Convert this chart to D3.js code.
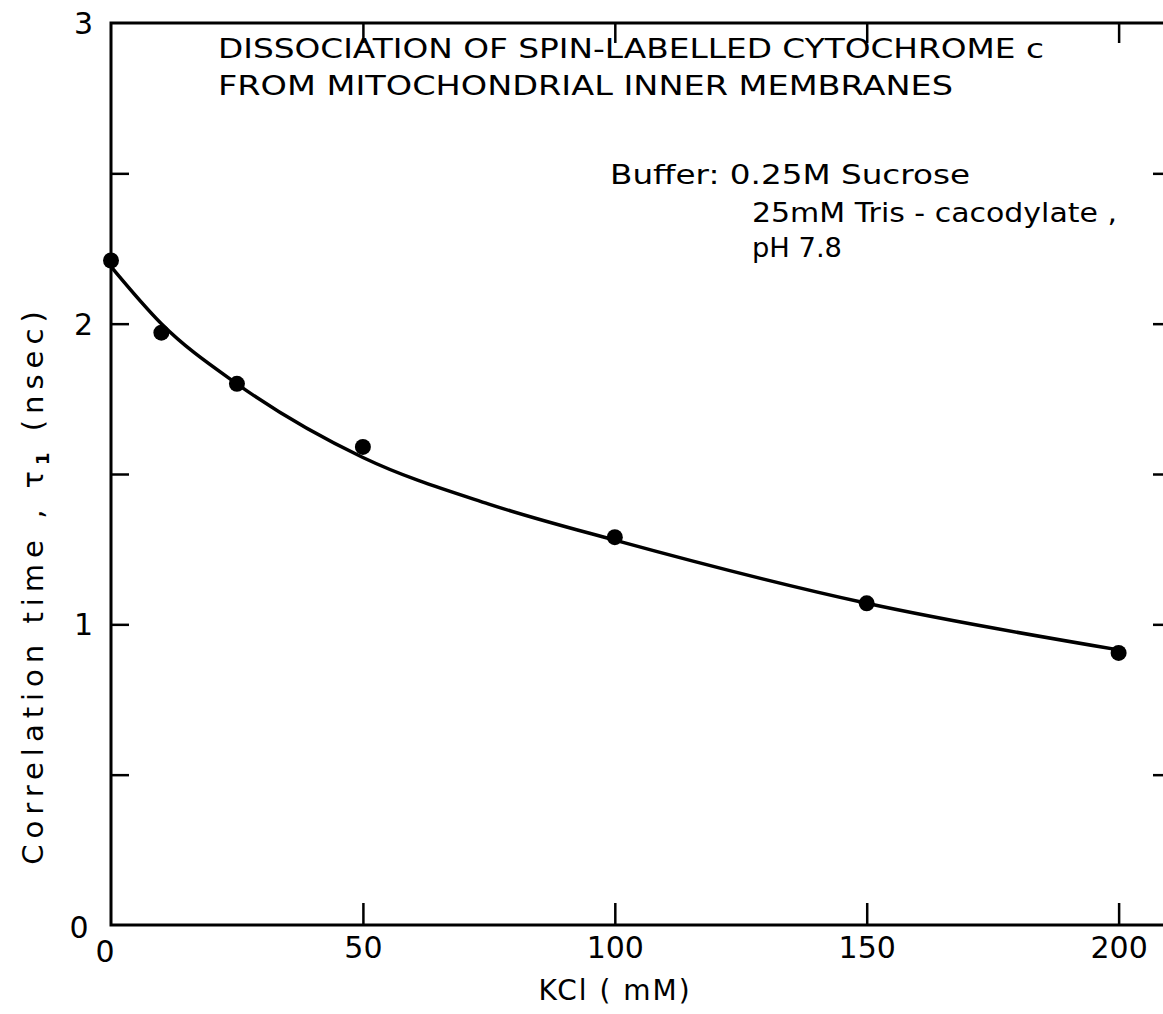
<!DOCTYPE html>
<html>
<head>
<meta charset="utf-8">
<script src="https://cdn.jsdelivr.net/npm/d3@7"></script>
<style>
  body { margin: 0; background: #fff; }
  text { font-family: "DejaVu Sans", sans-serif; fill: #000; }
</style>
</head>
<body>
<div id="chart"></div>
<script>
// measured points (KCl mM vs correlation time, nsec)
var kcl = [0, 10, 25, 50, 100, 150, 200];
var tau = [2.21, 1.97, 1.80, 1.59, 1.29, 1.07, 0.905];

// hand-drawn fitted curve
var curveX = [0, 10, 25, 50, 75, 100, 150, 200];
var curveY = [2.19, 2.00, 1.80, 1.555, 1.40, 1.28, 1.07, 0.915];

var xTicks = [0, 50, 100, 150, 200];
var yTicks = [0.5, 1, 1.5, 2, 2.5];
var yLabels = [1, 2, 3];

var titleLines = ["DISSOCIATION OF SPIN-LABELLED CYTOCHROME c",
                  "FROM MITOCHONDRIAL INNER MEMBRANES"];
var bufferLines = ["Buffer: 0.25M  Sucrose", "25mM Tris - cacodylate ,", "pH 7.8"];

var svgWidth = 1163;
var svgHeight = 1014;

var svg = d3.select("#chart")
    .append("svg")
    .attr("width", svgWidth)
    .attr("height", svgHeight);

var x = d3.scaleLinear().domain([0, 210]).range([111, 1169]);
var y = d3.scaleLinear().domain([0, 3]).range([925, 23]);

// frame
svg.append("rect")
    .attr("x", x(0))
    .attr("y", y(3))
    .attr("width", x(210) - x(0))
    .attr("height", y(0) - y(3))
    .attr("fill", "none")
    .attr("stroke", "#000")
    .attr("stroke-width", 3);

// bottom axis, ticks pointing up
var bottomAxis = svg.append("g")
    .attr("transform", `translate(0, ${y(0)})`)
    .call(d3.axisBottom(x).tickValues(xTicks.slice(1)).tickSize(-22).tickPadding(12));
// top axis ticks pointing down
var topAxis = svg.append("g")
    .attr("transform", `translate(0, ${y(3)})`)
    .call(d3.axisTop(x).tickValues(xTicks.slice(1)).tickSize(-20).tickFormat(""));
// left axis
var leftAxis = svg.append("g")
    .attr("transform", `translate(${x(0)}, 0)`)
    .call(d3.axisLeft(y).tickValues(yTicks).tickSize(-18).tickFormat(""));
// right axis
var rightAxis = svg.append("g")
    .attr("transform", `translate(${x(210)}, 0)`)
    .call(d3.axisRight(y).tickValues(yTicks).tickSize(-16).tickFormat(""));

[bottomAxis, topAxis, leftAxis, rightAxis].forEach(function(a) {
    a.select(".domain").remove();
    a.selectAll("line").attr("stroke", "#000").attr("stroke-width", 2.5);
});
bottomAxis.selectAll("text")
    .style("font-size", "30px")
    .style("font-family", "DejaVu Sans");

// the two zeros in the corner
svg.append("text")
    .attr("x", x(0) - 6)
    .attr("y", y(0) + 37)
    .attr("text-anchor", "middle")
    .style("font-size", "30px")
    .text("0");
svg.append("text")
    .attr("x", x(0) - 32)
    .attr("y", y(0) + 13)
    .attr("text-anchor", "middle")
    .style("font-size", "30px")
    .text("0");
svg.selectAll(".ylab")
    .data(yLabels)
    .enter()
    .append("text")
    .attr("class", "ylab")
    .attr("x", x(0) - 18)
    .attr("y", d => y(d) + 11)
    .attr("text-anchor", "end")
    .style("font-size", "30px")
    .text(d => d);

// fitted curve
var line = d3.line()
    .x(d => x(d[0]))
    .y(d => y(d[1]))
    .curve(d3.curveMonotoneX);

svg.append("path")
    .datum(curveX.map((d, i) => [d, curveY[i]]))
    .attr("d", line)
    .attr("fill", "none")
    .attr("stroke", "#000")
    .attr("stroke-width", 3.5);

// points
svg.selectAll("circle")
    .data(kcl)
    .enter()
    .append("circle")
    .attr("cx", (d, i) => x(d))
    .attr("cy", (d, i) => y(tau[i]))
    .attr("r", 8)
    .attr("fill", "#000");

// title
svg.selectAll(".title")
    .data(titleLines)
    .enter()
    .append("text")
    .attr("class", "title")
    .attr("x", 218)
    .attr("y", (d, i) => 58 + i * 37)
    .attr("textLength", (d, i) => i === 0 ? 826 : 735)
    .attr("lengthAdjust", "spacingAndGlyphs")
    .style("font-size", "27px")
    .text(d => d);

// buffer note
svg.selectAll(".buffer")
    .data(bufferLines)
    .enter()
    .append("text")
    .attr("class", "buffer")
    .attr("x", (d, i) => i === 0 ? 610 : 752)
    .attr("y", (d, i) => [184, 222, 257][i])
    .attr("textLength", (d, i) => [360, 365, 90][i])
    .attr("lengthAdjust", "spacingAndGlyphs")
    .style("font-size", "26px")
    .text(d => d);

// axis titles
svg.append("text")
    .attr("x", 615)
    .attr("y", 1000)
    .attr("text-anchor", "middle")
    .style("font-size", "28px")
    .style("letter-spacing", "2px")
    .text("KCl  ( mM)");

var yTitle = svg.append("text")
    .attr("transform", "translate(43, 585) rotate(-90)")
    .attr("text-anchor", "middle")
    .style("font-size", "29px")
    .style("letter-spacing", "6px");
yTitle.append("tspan").text("Correlation time , τ");
yTitle.append("tspan").attr("dy", 6).style("font-size", "18px").style("font-weight", "bold").text("1");
yTitle.append("tspan").attr("dy", -6).text(" (nsec)");
</script>
</body>
</html>
